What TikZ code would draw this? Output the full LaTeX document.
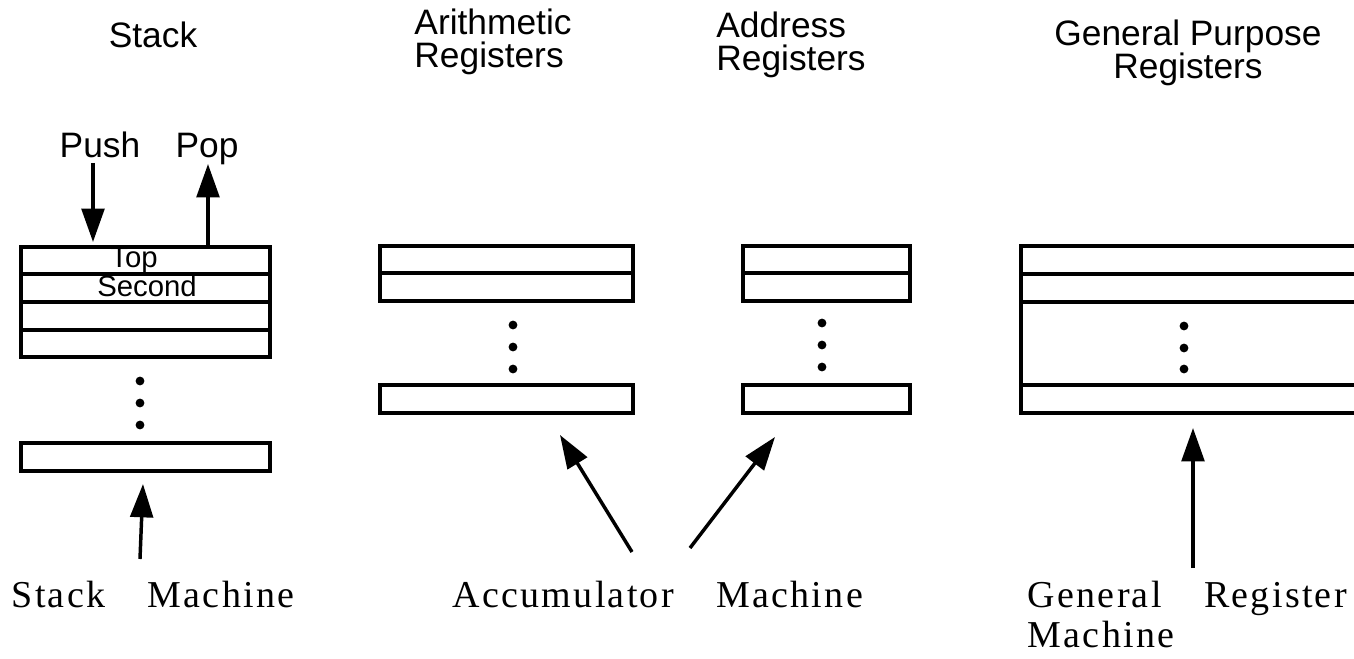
\documentclass[tikz,border=0pt]{standalone}
\usepackage{fontspec}
\setmainfont{Liberation Serif}
\setsansfont{Liberation Sans}
\newfontfamily\spacedserif[LetterSpace=6,WordSpace=3.6]{Liberation Serif}
\usetikzlibrary{arrows.meta}

\begin{document}
\begin{tikzpicture}[x=0.75pt, y=-0.75pt, line width=2.6pt,
  ptr/.style={-{Triangle[length=25pt,width=17pt]}, line width=2.6pt},
  head/.style={font=\sffamily\fontsize{26.5}{25}\selectfont, align=left},
  cell/.style={font=\sffamily\fontsize{22}{23}\selectfont, anchor=base, inner sep=0pt},
  machine/.style={font=\spacedserif\fontsize{28.5}{30}\selectfont, anchor=base west, inner sep=0pt}]
  \useasboundingbox (0,0) rectangle (1354,659);

  % headings
  \node[head, anchor=base] (hstack) at (153,48) {Stack};
  \node[head] (harith) at (493,42) {Arithmetic\\Registers};
  \node[head] (haddr) at (791,45) {Address\\Registers};
  \node[head, align=center] (hgp) at (1188,53) {General Purpose\\Registers};
  \node[head, anchor=base] (push) at (100,158) {Push};
  \node[head, anchor=base] (pop) at (207,158) {Pop};

  % stack
  \draw (21,247) rectangle (270,357);
  \foreach \y in {274,302,330}
    \draw (21,\y) -- (270,\y);
  \draw (21,443) rectangle (270,471);
  \foreach \y in {381,403,425}
    \fill (140,\y) circle (3.3pt);
  \node[cell] (top) at (134,268) {Top};
  \node[cell] (second) at (147,297) {Second};

  % arithmetic registers
  \draw (380,246) rectangle (633,301);
  \draw (380,273) -- (633,273);
  \draw (380,385) rectangle (633,413);
  \foreach \y in {325,347,369}
    \fill (513,\y) circle (3.3pt);

  % address registers
  \draw (743,246) rectangle (910,301);
  \draw (743,273) -- (910,273);
  \draw (743,385) rectangle (910,413);
  \foreach \y in {323,345,367}
    \fill (822,\y) circle (3.3pt);

  % general purpose registers
  \draw (1380,246) -- (1021,246) -- (1021,413) -- (1380,413);
  \foreach \y in {274,302,385}
    \draw (1021,\y) -- (1380,\y);
  \foreach \y in {326,348,369}
    \fill (1184,\y) circle (3.3pt);

  % machine names
  \node[machine] (stackm) at (10,607) {Stack Machine};
  \node[machine] (accm) at (451,607) {Accumulator Machine};
  \node[machine] (genm) at (1026,607) {General Register};
  \node[machine] (genm2) at (1026,647) {Machine};

  % arrows
  \coordinate (push-in) at (93,163);
  \coordinate (push-tip) at (93,242);
  \coordinate (pop-out) at (208,247);
  \coordinate (pop-tip) at (208,164);
  \coordinate (stack-tail) at (140,559);
  \coordinate (stack-tip) at (143,484);
  \coordinate (acc-tail) at (632,552);
  \coordinate (acc-tip) at (560,435);
  \coordinate (addr-tail) at (690,548);
  \coordinate (addr-tip) at (775,437);
  \coordinate (gen-tail) at (1193,568);
  \coordinate (gen-tip) at (1193,428);

  \draw[ptr] (push-in) -- (push-tip);
  \draw[ptr] (pop-out) -- (pop-tip);
  \draw[ptr] (stack-tail) -- (stack-tip);
  \draw[ptr] (acc-tail) -- (acc-tip);
  \draw[ptr] (addr-tail) -- (addr-tip);
  \draw[ptr] (gen-tail) -- (gen-tip);
\end{tikzpicture}
\end{document}
